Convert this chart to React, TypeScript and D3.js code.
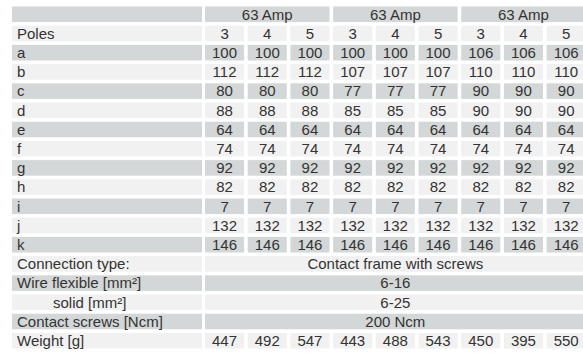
import React from "react";
import * as d3 from "d3";

const groupLabels = ["63 Amp", "63 Amp", "63 Amp"];
const poleCounts = ["3", "4", "5", "3", "4", "5", "3", "4", "5"];
const dimLabels = ["a", "b", "c", "d", "e", "f", "g", "h", "i", "j", "k"];
const dimA = [100, 100, 100, 100, 100, 100, 106, 106, 106];
const dimB = [112, 112, 112, 107, 107, 107, 110, 110, 110];
const dimC = [80, 80, 80, 77, 77, 77, 90, 90, 90];
const dimD = [88, 88, 88, 85, 85, 85, 90, 90, 90];
const dimE = [64, 64, 64, 64, 64, 64, 64, 64, 64];
const dimF = [74, 74, 74, 74, 74, 74, 74, 74, 74];
const dimG = [92, 92, 92, 92, 92, 92, 92, 92, 92];
const dimH = [82, 82, 82, 82, 82, 82, 82, 82, 82];
const dimI = [7, 7, 7, 7, 7, 7, 7, 7, 7];
const dimJ = [132, 132, 132, 132, 132, 132, 132, 132, 132];
const dimK = [146, 146, 146, 146, 146, 146, 146, 146, 146];
const dimValues = [dimA, dimB, dimC, dimD, dimE, dimF, dimG, dimH, dimI, dimJ, dimK];
const specLabels = ["Connection type:", "Wire flexible  [mm²]", "solid [mm²]", "Contact screws [Ncm]"];
const specValues = ["Contact frame with screws", "6-16", "6-25", "200 Ncm"];
const specIndent = [false, false, true, false];
const weightLabel = "Weight [g]";
const weights = [447, 492, 547, 443, 488, 543, 450, 395, 550];

const W = 583;
const H = 354;
const DARK = "#d4d7d7";
const LIGHT = "#f1f1f1";
const TEXT = "#333";
const FONT = "Liberation Sans, Arial, sans-serif";

type Row = { key: string; label: string; indent?: boolean; kind: "header" | "poles" | "data" | "span"; values?: (string | number)[]; span?: string };

export default function App() {
  const rows: Row[] = [];
  rows.push({ key: "header", label: "", kind: "header" });
  rows.push({ key: "poles", label: "Poles", kind: "poles", values: poleCounts });
  dimLabels.forEach((l, i) => rows.push({ key: "d" + l, label: l, kind: "data", values: dimValues[i] }));
  specLabels.forEach((l, i) => rows.push({ key: "s" + i, label: l, kind: "span", span: specValues[i], indent: specIndent[i] }));
  rows.push({ key: "weight", label: weightLabel, kind: "data", values: weights });

  const rowStep = 19.2;
  const rowPad = 3.6 / rowStep;
  const y0 = 6.5 - (rowStep * rowPad) / 2;
  const y = d3
    .scaleBand<string>()
    .domain(rows.map((r) => r.key))
    .range([y0, y0 + rows.length * rowStep])
    .paddingInner(rowPad)
    .paddingOuter(rowPad / 2);

  const colStep = 42.7;
  const colPad = 3.6 / colStep;
  const x0 = 205 - (colStep * colPad) / 2;
  const cols = d3.range(poleCounts.length).map(String);
  const x = d3
    .scaleBand<string>()
    .domain(cols)
    .range([x0, x0 + cols.length * colStep])
    .paddingInner(colPad)
    .paddingOuter(colPad / 2);

  const labelX0 = 12;
  const labelX1 = 202;
  const dataX0 = x("0")!;
  const dataX1 = x(String(cols.length - 1))! + x.bandwidth();
  const bw = x.bandwidth();
  const bh = y.bandwidth();
  const textY = (key: string) => y(key)! + bh / 2 + 5.2;

  return (
    <svg width={W} height={H} style={{ position: "absolute", left: 0, top: 0, background: "#fff" }} fontFamily={FONT} fontSize={15}>
      {rows.map((r, ri) => {
        const fill = ri % 2 === 0 ? DARK : LIGHT;
        const top = y(r.key)!;
        const ty = textY(r.key);
        return (
          <g key={r.key}>
            <rect x={labelX0} y={top} width={labelX1 - labelX0} height={bh} fill={fill} />
            {r.label && (
              <text x={r.indent ? 53 : 17} y={ty} fill={TEXT}>
                {r.label}
              </text>
            )}
            {r.kind === "header" &&
              groupLabels.map((g, gi) => {
                const gx0 = x(String(gi * 3))!;
                const gx1 = x(String(gi * 3 + 2))! + bw;
                return (
                  <g key={gi}>
                    <rect x={gx0} y={top} width={gx1 - gx0} height={bh} fill={fill} />
                    <text x={(gx0 + gx1) / 2} y={ty} textAnchor="middle" fill={TEXT}>
                      {g}
                    </text>
                  </g>
                );
              })}
            {(r.kind === "poles" || r.kind === "data") &&
              r.values!.map((v, ci) => (
                <g key={ci}>
                  <rect x={x(String(ci))!} y={top} width={bw} height={bh} fill={fill} />
                  <text x={x(String(ci))! + bw / 2} y={ty} textAnchor="middle" fill={TEXT}>
                    {v}
                  </text>
                </g>
              ))}
            {r.kind === "span" && (
              <g>
                <rect x={dataX0} y={top} width={dataX1 - dataX0} height={bh} fill={fill} />
                <text x={(dataX0 + dataX1) / 2} y={ty} textAnchor="middle" fill={TEXT}>
                  {r.span}
                </text>
              </g>
            )}
          </g>
        );
      })}
    </svg>
  );
}
